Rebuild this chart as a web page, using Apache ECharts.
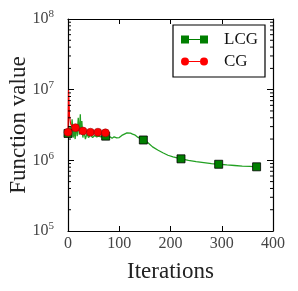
<!DOCTYPE html>
<html><head><meta charset="utf-8">
<script src="https://cdn.jsdelivr.net/npm/echarts@6/dist/echarts.min.js"></script>
<style>html,body{margin:0;padding:0;background:#fff}#c{width:298px;height:291px}</style>
</head><body><div id="c"></div>
<script>
// ---- data ----
const xTicks = [0, 100, 200, 300, 400];
const yTickExps = [5, 6, 7, 8];
const lcgIter = [0,2,4,6,8,10,12,14,16,18,20,22,24,25,27,29,31,34,37,40,44,48,52,56,60,64,68,73.5,78,82,86,90,95,100,105,110,115,118,122,126,130,135,140,147,155,165,175,185,195,205,213,220.5,235,250,265,280,294,310,325,340,355,368];
const lcgValue = [2.4e6,2.2e6,3.0e6,2.3e6,3.8e6,2.1e6,2.6e6,2.0e6,3.2e6,2.2e6,4.0e6,2.3e6,4.5e6,2.5e6,3.6e6,2.1e6,2.6e6,2.0e6,2.4e6,2.1e6,2.3e6,2.1e6,2.25e6,2.15e6,2.2e6,2.15e6,2.2e6,2.2e6,2.1e6,2.15e6,2.05e6,2.15e6,2.08e6,2.1e6,2.25e6,2.35e6,2.45e6,2.5e6,2.42e6,2.35e6,2.3e6,2.15e6,2.05e6,1.94e6,1.8e6,1.55e6,1.4e6,1.28e6,1.18e6,1.12e6,1.08e6,1.05e6,1.0e6,0.96e6,0.93e6,0.9e6,0.88e6,0.86e6,0.845e6,0.83e6,0.82e6,0.81e6];
const lcgMarkerIter = [0, 73.5, 147, 220.5, 294, 368];
const cgIter = [0,1,2,3,5,8,14.6,20,29.2,43.8,58.4,73];
const cgValue = [2.5e6,9.8e6,6.5e6,4.2e6,3.3e6,3.0e6,2.9e6,2.7e6,2.6e6,2.5e6,2.5e6,2.45e6];
const cgMarkerIter = [0, 14.6, 29.2, 43.8, 58.4, 73];
const minorTickValues = [];
for (let e = 5; e < 8; e++) for (let m = 2; m <= 9; m++) minorTickValues.push(m * Math.pow(10, e));

// ---- chart ----
const FONT = '"Liberation Serif", serif';
const chart = echarts.init(document.getElementById('c'));
function pts(xs, ys, marks) {
  return xs.map((x, i) => ({ value: [x, ys[i]], symbol: marks.includes(x) ? undefined : 'none' }));
}
const supLabel = v => {
  const e = Math.round(Math.log10(v));
  return yTickExps.includes(e) ? '{b|10}{s|' + e + '}' : '';
};
const rich = { b: { fontFamily: FONT, fontSize: 16, color: '#444' }, s: { fontFamily: FONT, fontSize: 11, color: '#444', padding: [0, 0, 9, 0] } };
const axisLine = { show: true, onZero: false, lineStyle: { color: '#000', width: 1.2 } };

chart.setOption({
  animation: false,
  grid: { left: 68, right: 25, top: 19, bottom: 60, containLabel: false, outerBoundsMode: 'none' },
  legend: {
    right: 33, top: 25, orient: 'vertical',
    padding: [6, 7, 7, 8],
    itemGap: 5,
    borderColor: '#000', borderWidth: 1.2, backgroundColor: '#fff',
    itemWidth: 27, itemHeight: 8,
    itemStyle: { borderWidth: 0 },
    textStyle: { fontFamily: FONT, fontSize: 17, lineHeight: 17, color: '#111', padding: [0, 0, 0, 11] },
    data: [
      { name: 'LCG', icon: 'path://M0,0h8v8h-8z M19,0h8v8h-8z M8,3.5h11v1h-11z' },
      { name: 'CG', icon: 'path://M0,4a4,4 0 1,0 8,0a4,4 0 1,0 -8,0z M19,4a4,4 0 1,0 8,0a4,4 0 1,0 -8,0z M8,3.5h11v1h-11z' }
    ]
  },
  xAxis: [
    { type: 'value', min: 0, max: 400, interval: 100, position: 'bottom',
      name: 'Iterations', nameLocation: 'middle', nameGap: 29, nameMoveOverlap: false,
      nameTextStyle: { fontFamily: FONT, fontSize: 23, color: '#222' },
      axisLine, axisTick: { inside: true, length: 5, lineStyle: { color: '#000' } },
      axisLabel: { fontFamily: FONT, fontSize: 16, color: '#444', margin: 5, formatter: v => xTicks.includes(v) ? String(v) : '' },
      splitLine: { show: false } },
    { type: 'value', min: 0, max: 400, interval: 100, position: 'top',
      axisLine, axisTick: { inside: true, length: 5, lineStyle: { color: '#000' } },
      axisLabel: { show: false }, splitLine: { show: false } }
  ],
  yAxis: [
    { type: 'log', logBase: 10, min: 1e5, max: 1e8, position: 'left',
      name: 'Function value', nameLocation: 'middle', nameGap: 38, nameMoveOverlap: false,
      nameTextStyle: { fontFamily: FONT, fontSize: 23, color: '#222' },
      axisLine, axisTick: { inside: true, length: 6, lineStyle: { color: '#000' } },
      axisLabel: { margin: 14, formatter: supLabel, rich },
      splitLine: { show: false } },
    { type: 'log', logBase: 10, min: 1e5, max: 1e8, position: 'right',
      axisLine, axisTick: { inside: true, length: 6, lineStyle: { color: '#000' } },
      axisLabel: { show: false }, splitLine: { show: false } }
  ],
  series: [
    { name: 'LCG', type: 'line', data: pts(lcgIter, lcgValue, lcgMarkerIter),
      symbol: 'rect', symbolSize: 8, showAllSymbol: true,
      lineStyle: { color: '#22a022', width: 1.3 },
      itemStyle: { color: '#007f00', borderColor: '#000', borderWidth: 0.8 }, z: 2 },
    { name: 'CG', type: 'line', data: pts(cgIter, cgValue, cgMarkerIter),
      symbol: 'circle', symbolSize: 8, showAllSymbol: true,
      lineStyle: { color: '#ff0000', width: 1.2 },
      itemStyle: { color: '#ff0000', borderColor: '#8b0000', borderWidth: 0.5 }, z: 3 },
    { name: 'minorTicks', type: 'custom', silent: true, legendHoverLink: false,
      data: minorTickValues.map(v => [0, v]),
      renderItem: (params, api) => {
        const v = api.value(1);
        const pl = api.coord([0, v]);
        const pr = api.coord([400, v]);
        return { type: 'group', children: [
          { type: 'line', shape: { x1: pl[0], y1: pl[1], x2: pl[0] + 3, y2: pl[1] }, style: { stroke: '#000', lineWidth: 1 } },
          { type: 'line', shape: { x1: pr[0], y1: pr[1], x2: pr[0] - 3, y2: pr[1] }, style: { stroke: '#000', lineWidth: 1 } }
        ] };
      }, z: 5 }
  ]
});
</script></body></html>
